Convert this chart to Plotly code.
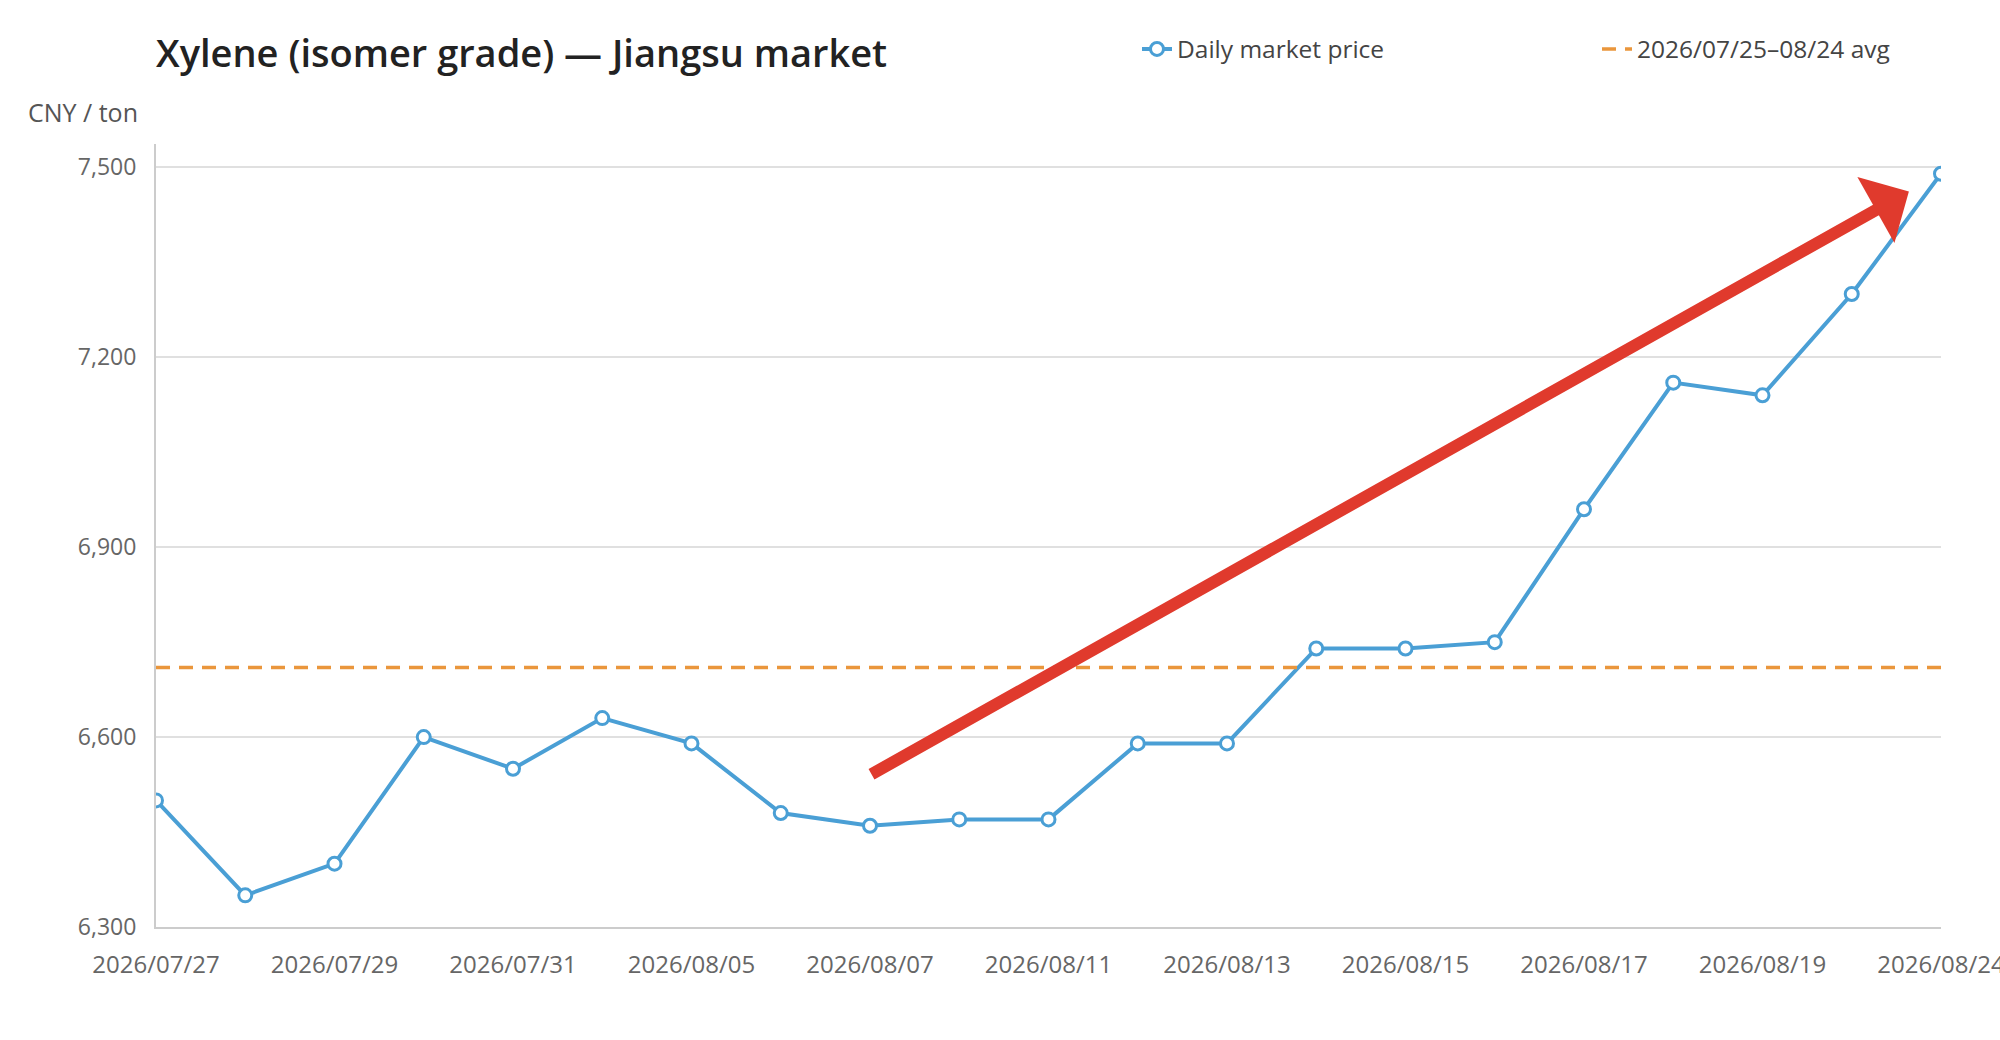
import plotly.graph_objects as go

# ---- data ----
DATES = [
    "2026/07/27", "2026/07/28", "2026/07/29", "2026/07/30", "2026/07/31",
    "2026/08/03", "2026/08/05", "2026/08/06", "2026/08/07", "2026/08/10",
    "2026/08/11", "2026/08/12", "2026/08/13", "2026/08/14", "2026/08/15",
    "2026/08/16", "2026/08/17", "2026/08/18", "2026/08/19", "2026/08/20",
    "2026/08/24",
]
PRICES = [
    6500, 6350, 6400, 6600, 6550, 6630, 6590, 6480, 6460, 6470,
    6470, 6590, 6590, 6740, 6740, 6750, 6960, 7160, 7140, 7300,
    7490,
]
AVG_PRICE = 6710
Y_TICKS = [6300, 6600, 6900, 7200, 7500]
TICK_DATES = DATES[::2]

# trend arrow (category index, price)
ARROW_START = (8.0, 6540)
ARROW_END = (19.64, 7462)

BLUE = "#4a9fd5"
ORANGE = "#ea963c"
RED = "#e03a2d"
FONT = "Open Sans"

FIG_W, FIG_H = 2000, 1040

fig = go.Figure()
fig.add_trace(go.Scatter(
    x=DATES, y=PRICES, name="Daily market price",
    mode="lines+markers",
    line=dict(color=BLUE, width=4),
    marker=dict(symbol="circle", size=13, color="white",
                line=dict(color=BLUE, width=3)),
))
fig.add_trace(go.Scatter(
    x=DATES, y=[AVG_PRICE] * len(DATES), name="2026/07/25\u201308/24 avg",
    mode="lines",
    line=dict(color=ORANGE, width=3.5, dash="14px,9px"),
))

fig.add_annotation(
    x=ARROW_END[0], y=ARROW_END[1], xref="x", yref="y",
    ax=ARROW_START[0], ay=ARROW_START[1], axref="x", ayref="y",
    showarrow=True, arrowhead=1, arrowsize=1.05, arrowwidth=12,
    arrowcolor=RED, text="",
)

fig.add_annotation(
    text="CNY / ton", xref="paper", yref="paper", x=0, y=1,
    xanchor="right", yanchor="middle", xshift=-16, yshift=32,
    showarrow=False, font=dict(family=FONT, size=25, color="#555555"),
)

fig.update_layout(
    width=FIG_W, height=FIG_H,
    margin=dict(l=156, r=59, t=144, b=113, autoexpand=False),
    paper_bgcolor="white", plot_bgcolor="white",
    font=dict(family=FONT, color="#666666"),
    title=dict(
        text="Xylene (isomer grade) \u2014 Jiangsu market",
        x=156 / FIG_W, xref="container", xanchor="left",
        y=1 - 54 / FIG_H, yref="container", yanchor="middle",
        font=dict(family=FONT, size=38, color="#222222", weight=600),
    ),
    showlegend=True,
    legend=dict(
        orientation="h",
        xref="container", x=1137 / FIG_W, xanchor="left",
        yref="container", y=1 - 49 / FIG_H, yanchor="middle",
        font=dict(family=FONT, size=24.5, color="#444444"),
        entrywidth=415, bgcolor="rgba(0,0,0,0)",
    ),
    xaxis=dict(
        type="category", range=[0, len(DATES) - 1], automargin=False,
        tickmode="array", tickvals=TICK_DATES, ticktext=TICK_DATES,
        showgrid=False, showline=True, linecolor="#cccccc", linewidth=2,
        ticks="", ticklabelstandoff=15, ticklabeloverflow="allow",
        tickfont=dict(family=FONT, size=24, color="#666666"),
        zeroline=False,
    ),
    yaxis=dict(
        range=[6300, 7537], tickmode="array", tickvals=Y_TICKS,
        automargin=False,
        tickformat=",d", showgrid=True, gridcolor="#e0e0e0", gridwidth=2,
        showline=True, linecolor="#cccccc", linewidth=2,
        ticks="", ticklabelstandoff=13,
        tickfont=dict(family=FONT, size=23, color="#666666"),
        zeroline=False,
    ),
)

fig.write_html(
    "out.html",
    config={"displayModeBar": False},
    post_script="document.body.style.margin='0';document.body.style.overflow='hidden';",
)
